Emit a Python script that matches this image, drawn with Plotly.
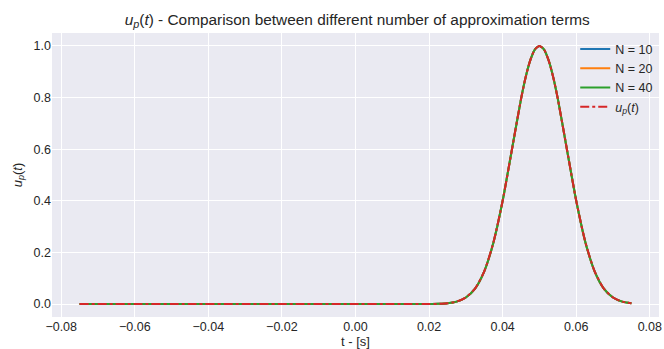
import plotly.graph_objects as go

# time samples (s)
t = [-0.075, -0.06, -0.045, -0.03, -0.015, 0.0, 0.01, 0.015, 0.02, 0.0225, 0.025,
     0.0275, 0.03, 0.0325, 0.035, 0.0375, 0.04, 0.0425, 0.045, 0.04625, 0.0475,
     0.04875, 0.05, 0.05125, 0.0525, 0.05375, 0.055, 0.0575, 0.06, 0.0625, 0.065,
     0.0675, 0.07, 0.0725, 0.075]

u_exact = [0.0, 0.0, 0.0, 0.0, 0.0, 0.0, 0.0, 0.0, 0.0003, 0.001, 0.0032,
           0.0096, 0.0255, 0.060, 0.127, 0.239, 0.400, 0.597, 0.795, 0.879, 0.944,
           0.986, 1.0, 0.986, 0.944, 0.879, 0.795, 0.597, 0.400, 0.239, 0.127,
           0.060, 0.0255, 0.0096, 0.0032]
u_n10 = list(u_exact)
u_n20 = list(u_exact)
u_n40 = list(u_exact)

x_ticks = [-0.08, -0.06, -0.04, -0.02, 0.0, 0.02, 0.04, 0.06, 0.08]
y_ticks = [0.0, 0.2, 0.4, 0.6, 0.8, 1.0]

FONT = "Liberation Sans, Arial, sans-serif"
TXT = "#262626"

fig = go.Figure()
for name, ys, col in [("N = 10", u_n10, "#1f77b4"), ("N = 20", u_n20, "#ff7f0e"),
                      ("N = 40", u_n40, "#2ca02c")]:
    fig.add_trace(go.Scatter(x=t, y=ys, mode="lines", name=name,
                             line=dict(color=col, width=2, shape="spline", smoothing=0.6)))
fig.add_trace(go.Scatter(x=t, y=u_exact, mode="lines",
                         name="<i>u<sub>p</sub></i>(<i>t</i>)",
                         line=dict(color="#d62728", width=2, dash="dashdot",
                                   shape="spline", smoothing=0.6)))

fig.update_layout(
    width=664, height=349,
    margin=dict(l=52, r=2, t=33, b=32),
    paper_bgcolor="white", plot_bgcolor="#EAEAF2",
    font=dict(family=FONT, size=12, color=TXT),
    title=dict(text="<i>u<sub>p</sub></i>(<i>t</i>) - Comparison between different number of approximation terms",
               x=0.538, xanchor="center", y=0.945, yanchor="middle",
               font=dict(size=15.4, color=TXT)),
    showlegend=True,
    legend=dict(x=0.862, y=0.995, xanchor="left", yanchor="top",
                bgcolor="rgba(0,0,0,0)", font=dict(size=12.5, color=TXT),
                tracegroupgap=0, itemwidth=30),
)
fig.update_xaxes(range=[-0.0825, 0.0825], tickvals=x_ticks, tickformat=".2f",
                 ticklabeloverflow="allow",
                 showgrid=True, gridcolor="white", gridwidth=1, zeroline=False,
                 showline=False, ticks="", tickfont=dict(size=12.5),
                 title=dict(text="t - [s]", standoff=4, font=dict(size=13)))
fig.update_yaxes(range=[-0.05, 1.05], tickvals=y_ticks, tickformat=".1f",
                 showgrid=True, gridcolor="white", gridwidth=1, zeroline=False,
                 showline=False, ticks="", tickfont=dict(size=12.5),
                 title=dict(text="<i>u<sub>p</sub></i>(<i>t</i>)", standoff=8, font=dict(size=13)))

fig.write_html("out.html")
